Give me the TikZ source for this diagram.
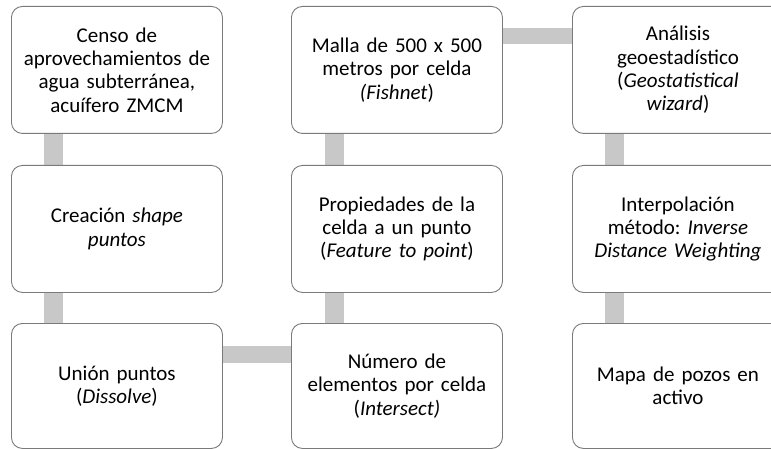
\documentclass[tikz,border=0pt]{standalone}
\usepackage{fontspec}
\setmainfont{Carlito}
\frenchspacing
\usetikzlibrary{calc,backgrounds}
\definecolor{connc}{HTML}{C8C8C8}
\definecolor{boxc}{HTML}{7A7A7A}
\tikzset{
  stepbox/.style={draw=boxc, line width=0.9pt, rounded corners=11pt, fill=white,
    minimum width=211pt, minimum height=127pt, text width=205pt, align=center,
    inner sep=0pt, anchor=north west,
    font=\fontsize{21pt}{23.3pt}\selectfont},
  conn/.style={draw=connc, line width=19pt}
}
\begin{document}
\begin{tikzpicture}[x=1pt,y=-1pt]
\useasboundingbox (0,0) rectangle (771,449);
\clip (0,0) rectangle (771,449);
\node[stepbox] (a1) at (11,6) {Censo de\\aprovechamientos de\\agua subterránea,\\acuífero ZMCM};
\node[stepbox] (a2) at (11,165) {Creación \textit{shape}\\\textit{puntos}};
\node[stepbox, minimum height=125pt] (a3) at (11,323) {Unión puntos\\(\textit{Dissolve})};
\node[stepbox] (b1) at (291,6) {Malla de 500 x 500\\metros por celda\\\textit{(Fishnet})};
\node[stepbox] (b2) at (291,165) {Propiedades de la\\celda a un punto\\(\textit{Feature to point})};
\node[stepbox, minimum height=125pt] (b3) at (291,323) {Número de\\elementos por celda\\(\textit{Intersect)}};
\node[stepbox] (c1) at (572,6) {Análisis\\geoestadístico\\(\textit{Geostatistical}\\\textit{wizard})};
\node[stepbox] (c2) at (572,165) {Interpolación\\método: \textit{Inverse}\\\textit{Distance Weighting}};
\node[stepbox, minimum height=125pt] (c3) at (572,323) {Mapa de pozos en\\activo};
\begin{scope}[on background layer]
\draw[conn] ($(a1.south west)+(42.5,0)$) -- ($(a2.north west)+(42.5,0)$);
\draw[conn] ($(a2.south west)+(42.5,0)$) -- ($(a3.north west)+(42.5,0)$);
\draw[conn] ($(b1.south west)+(43.5,0)$) -- ($(b2.north west)+(43.5,0)$);
\draw[conn] ($(b2.south west)+(43.5,0)$) -- ($(b3.north west)+(43.5,0)$);
\draw[conn] ($(c1.south west)+(42.5,0)$) -- ($(c2.north west)+(42.5,0)$);
\draw[conn] ($(c2.south west)+(42.5,0)$) -- ($(c3.north west)+(42.5,0)$);
\draw[conn, line width=16pt] ($(b1.north east)+(0,30)$) -- ($(c1.north west)+(0,30)$);
\draw[conn, line width=17pt] ($(a3.north east)+(0,31.5)$) -- ($(b3.north west)+(0,31.5)$);
\end{scope}
\end{tikzpicture}
\end{document}
